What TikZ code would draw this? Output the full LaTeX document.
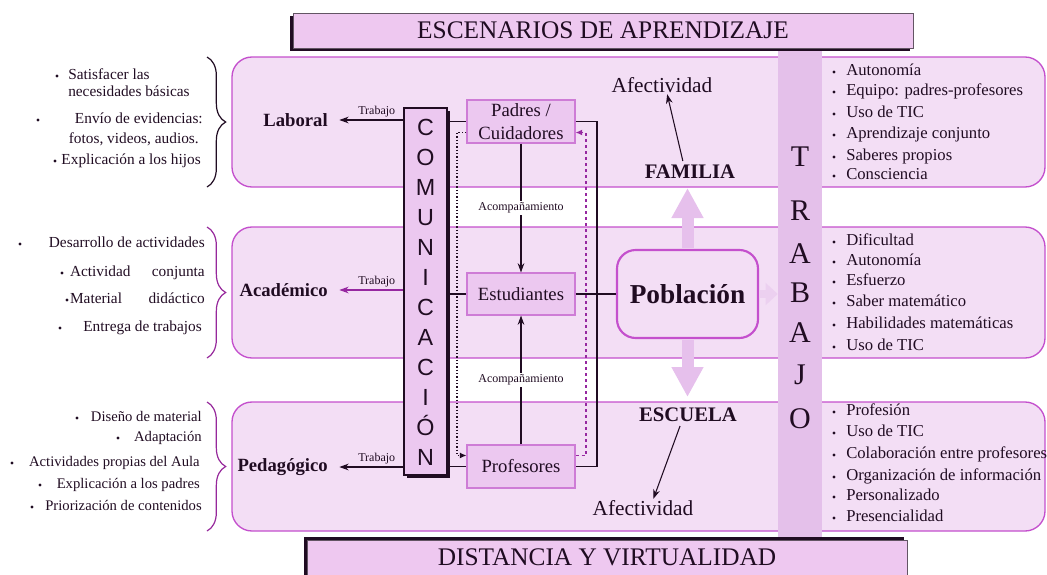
\documentclass[tikz,border=0pt]{standalone}
\usepackage{fontspec}
\setmainfont{Liberation Serif}
\newfontfamily\comfont{Liberation Sans}
\usepackage{xcolor}
\usetikzlibrary{arrows.meta,calc,decorations.pathreplacing}

\definecolor{bandfill}{RGB}{243,222,245}
\definecolor{bandline}{RGB}{196,80,205}
\definecolor{boxfill}{RGB}{236,200,240}
\definecolor{boxline}{RGB}{206,124,214}
\definecolor{colfill}{RGB}{228,192,234}
\definecolor{titlefill}{RGB}{238,200,240}
\definecolor{flowfill}{RGB}{230,192,236}
\definecolor{faintfill}{RGB}{236,208,240}
\definecolor{ink}{RGB}{32,12,34}
\definecolor{bracepurple}{RGB}{150,40,155}
\definecolor{dashpurple}{RGB}{150,40,160}

\begin{document}
\begin{tikzpicture}[x=0.75pt,y=0.75pt,yscale=-1,xscale=1,
    band/.style={draw=bandline, line width=1pt, fill=bandfill, rounded corners=15pt},
    headbox/.style={draw=ink!70, line width=0.6pt, fill=titlefill},
    headtext/.style={font=\fontsize{19}{20}\selectfont, text=ink, inner sep=0pt},
    column/.style={fill=colfill, minimum width=33pt, minimum height=395.25pt, inner sep=0pt},
    trabletter/.style={anchor=base, font=\fontsize{22.5}{24}\selectfont, text=ink, inner sep=0pt},
    combox/.style={draw=ink, line width=1.4pt, fill=boxfill, minimum width=32.25pt, minimum height=275.25pt, inner sep=0pt},
    comletter/.style={anchor=base, font=\comfont\fontsize{17.5}{18}\selectfont, text=ink, inner sep=0pt},
    actor/.style={draw=boxline, line width=0.8pt, fill=boxfill, minimum width=81pt, inner sep=1pt, align=center, text=ink, font=\fontsize{14}{17}\selectfont},
    hub/.style={draw=bandline, line width=1.6pt, fill=bandfill, rounded corners=14pt, minimum width=105.75pt, minimum height=66pt, font=\fontsize{20.5}{24}\selectfont\bfseries, text=ink},
    sector/.style={anchor=east, font=\fontsize{14}{16}\selectfont\bfseries, text=ink, inner sep=1.5pt},
    groupname/.style={font=\fontsize{15.5}{17}\selectfont\bfseries, text=ink, inner sep=1pt},
    affect/.style={font=\fontsize{16}{18}\selectfont, text=ink, inner sep=1pt},
    leftitem/.style={font=\fontsize{11.5}{13}\selectfont, text=ink, inner sep=0pt, text height=0.7em, text depth=0.22em},
    rightitem/.style={anchor=west, font=\fontsize{12.5}{14}\selectfont, text=ink, inner sep=0pt, text height=0.7em, text depth=0.22em},
    dot/.style={circle, fill=ink, inner sep=0pt, minimum size=2.6pt},
    tinylabel/.style={font=\fontsize{9}{10}\selectfont, text=ink, inner sep=1.5pt},
    lbrace/.style={decorate, decoration={brace, amplitude=14pt}, line width=0.9pt, draw=bracepurple},
    link/.style={draw=ink, line width=0.9pt},
    plainarrow/.style={draw=ink, line width=0.8pt, -{Stealth[length=7pt,width=5pt]}},
    workarrow/.style={draw=ink, line width=0.9pt, -{Stealth[length=7pt,width=5pt]}, shorten >=7pt},
    blackdots/.style={draw=ink, line width=0.8pt, dash pattern=on 1pt off 1.5pt, -{Latex[length=5pt,width=4.5pt]}},
    purpledots/.style={draw=dashpurple, line width=0.9pt, dash pattern=on 2.5pt off 2pt, -{Latex[length=5pt,width=4.5pt]}},
    flow/.style={draw=flowfill, line width=9pt, -{Triangle[length=22.5pt,width=22.5pt]}, shorten <=1pt},
    faintflow/.style={draw=faintfill, line width=6pt, -{Triangle[length=9pt,width=16pt]}, shorten <=1pt}
  ]
  \path[use as bounding box, clip] (0,0) rectangle (1047,575);

  % bands
  \draw[band] (232,57) rectangle (1045,187);
  \draw[band] (232,227) rectangle (1045,358);
  \draw[band] (232,402) rectangle (1045,531);

  % TRABAJO column
  \node[column] (trab) at (800,311.5) {};
  \foreach \ch/\yy [count=\i] in {T/166,R/220,A/263,B/302,A/342,J/384,O/428}
    \node[trabletter] (trab\i) at (800,\yy) {\ch};

  % title and bottom boxes
  \fill[ink] (290,16) rectangle (910,51);
  \draw[headbox] (293,13) rectangle (913,48);
  \node[headtext] (titulo) at (603,30.5) {ESCENARIOS DE APRENDIZAJE};
  \fill[ink] (304,537) rectangle (904,590);
  \draw[headbox] (307,540) rectangle (907,590);
  \node[headtext] (distancia) at (607,557) {DISTANCIA Y VIRTUALIDAD};

  % braces
  \draw[lbrace, draw=ink] (207,57) -- (207,187);
  \draw[lbrace] (207,227) -- (207,358);
  \draw[lbrace] (207,402) -- (207,531);

  % left lists
  \node[dot] (b1a) at (57,76) {};
  \node[leftitem, anchor=west] (l1a) at (68,76) {Satisfacer las};
  \node[leftitem, anchor=west] (l1b) at (68,93) {necesidades básicas};
  \node[dot] (b1b) at (38,120) {};
  \node[leftitem, anchor=east] (l1c) at (203,120) {Envío de evidencias:};
  \node[leftitem, anchor=east] (l1d) at (199,140) {fotos, videos, audios.};
  \node[dot] (b1c) at (55,161) {};
  \node[leftitem, anchor=east] (l1e) at (201,161) {Explicación a los hijos};

  \node[dot] (b2a) at (20,244) {};
  \node[leftitem, anchor=east] (l2a) at (205,244) {Desarrollo de actividades};
  \node[dot] (b2b) at (62,273) {};
  \node[leftitem, anchor=east] (l2b) at (205,273) {\makebox[101pt][s]{Actividad conjunta}};
  \node[dot] (b2c) at (67,300) {};
  \node[leftitem, anchor=east] (l2c) at (205,300) {\makebox[101pt][s]{Material didáctico}};
  \node[dot] (b2d) at (60,328) {};
  \node[leftitem, anchor=east] (l2d) at (202,328) {Entrega de trabajos};

  \node[dot] (b3a) at (77,418) {};
  \node[leftitem, anchor=east, font=\fontsize{11}{12}\selectfont] (l3a) at (202,418) {Diseño de material};
  \node[dot] (b3b) at (118,438) {};
  \node[leftitem, anchor=east, font=\fontsize{11}{12}\selectfont] (l3b) at (202,438) {Adaptación};
  \node[dot] (b3c) at (12,463) {};
  \node[leftitem, anchor=east, font=\fontsize{11}{12}\selectfont] (l3c) at (200,463) {Actividades propias del Aula};
  \node[dot] (b3d) at (40,485) {};
  \node[leftitem, anchor=east, font=\fontsize{11}{12}\selectfont] (l3d) at (200,485) {Explicación a los padres};
  \node[dot] (b3e) at (32,507) {};
  \node[leftitem, anchor=east, font=\fontsize{11}{12}\selectfont] (l3e) at (202,507) {Priorización de contenidos};

  % sectors
  \node[sector] (laboral) at (330,120) {Laboral};
  \node[sector] (academico) at (330,290) {Académico};
  \node[sector] (pedagogico) at (330,467) {Pedagógico};

  % COMUNICACION
  \fill[ink] (407,111) rectangle (450,478);
  \node[combox] (comun) at (425.5,291.5) {};
  \foreach \ch [count=\i from 0] in {C,O,M,U,N,I,C,A,C,I,Ó,N}
    \node[comletter] (com\i) at (425.5,135+30*\i) {\ch};

  % actors
  \node[actor, minimum height=32.25pt] (padres) at (521,121.5) {Padres /\\Cuidadores};
  \node[actor, minimum height=31.5pt] (estud) at (521,294) {Estudiantes};
  \node[actor, minimum height=32.25pt] (prof) at (521,466.5) {Profesores};

  % Poblacion
  \coordinate (famtip) at (687.5,188);
  \coordinate (esctip) at (687.5,397);
  \node[hub] (pobl) at (687.5,294) {Población};
  \draw[flow] (pobl.north) -- (famtip);
  \draw[flow] (pobl.south) -- (esctip);
  \draw[faintflow] (pobl.east) -- (trab.west |- pobl.east);

  % trabajo arrows
  \draw[workarrow] (comun.west |- laboral) -- (laboral.east) node[tinylabel, above, pos=0.36] (tr1) {Trabajo};
  \draw[workarrow, draw=dashpurple] (comun.west |- academico) -- (academico.east) node[tinylabel, above, pos=0.36] (tr2) {Trabajo};
  \draw[workarrow] (comun.west |- pedagogico) -- (pedagogico.east) node[tinylabel, above, pos=0.36] (tr3) {Trabajo};

  % links
  \coordinate (loopx) at (597,0);
  \coordinate (dotl) at (457,0);
  \coordinate (dotr) at (586,0);
  \draw[link] (comun.east |- padres) -- (padres.west);
  \draw[link] (comun.east |- estud) -- (estud.west);
  \draw[link] (comun.east |- prof) -- (prof.west);
  \draw[link] (padres.east) -- (padres.east -| loopx) -- (prof.east -| loopx) -- (prof.east);
  \draw[link] (estud.east) -- (pobl.west);
  \coordinate (pa) at ($(padres.south west)!0.25!(padres.north west)$);
  \coordinate (pb) at ($(prof.north west)!0.25!(prof.south west)$);
  \coordinate (pc) at ($(prof.north east)!0.25!(prof.south east)$);
  \coordinate (pd) at ($(padres.south east)!0.25!(padres.north east)$);
  \draw[blackdots] (pa) -- (pa -| dotl) -- (pb -| dotl) -- (pb);
  \draw[purpledots] (pc) -- (pc -| dotr) -- (pd -| dotr) -- (pd);
  \draw[plainarrow] (padres.south) -- (estud.north) node[tinylabel, fill=white, midway] (acomp1) {Acompañamiento};
  \draw[plainarrow] (prof.north) -- (estud.south) node[tinylabel, fill=white, midway] (acomp2) {Acompañamiento};

  % familia / escuela
  \node[groupname] (familia) at (690,172) {FAMILIA};
  \node[groupname] (escuela) at (688,415) {ESCUELA};
  \node[affect] (afe1) at (662,85) {Afectividad};
  \node[affect] (afe2) at (643,508) {Afectividad};
  \draw[plainarrow, shorten <=2pt] ($(familia.north west)!0.43!(familia.north east)$) -- ($(afe1.south west)!0.55!(afe1.south east)$);
  \draw[plainarrow, shorten <=2pt] ($(escuela.south west)!0.43!(escuela.south east)$) -- ($(afe2.north west)!0.6!(afe2.north east)$);

  % right lists
  \foreach \yy/\txt [count=\i] in {72/Autonomía, 92/{Equipo: padres-profesores}, 114/{Uso de TIC}, 135/{Aprendizaje conjunto}, 157/{Saberes propios}, 176/Consciencia}{
    \node[dot] (fb\i) at (834,\yy) {};
    \node[rightitem] (f\i) at (846,\yy) {\txt};
  }
  \foreach \yy/\txt [count=\i] in {242/Dificultad, 262/Autonomía, 282/Esfuerzo, 303/{Saber matemático}, 325/{Habilidades matemáticas}, 347/{Uso de TIC}}{
    \node[dot] (eb\i) at (834,\yy) {};
    \node[rightitem] (e\i) at (846,\yy) {\txt};
  }
  \foreach \yy/\txt [count=\i] in {412/Profesión, 433/{Uso de TIC}, 455/{Colaboración entre profesores}, 477/{Organización de información}, 497/Personalizado, 518/Presencialidad}{
    \node[dot] (pb\i) at (834,\yy) {};
    \node[rightitem] (p\i) at (846,\yy) {\txt};
  }
\end{tikzpicture}
\end{document}
